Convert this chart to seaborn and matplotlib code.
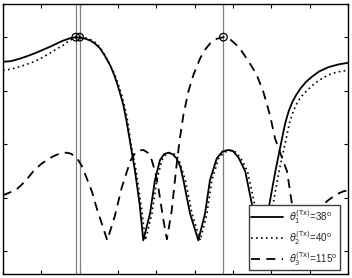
import numpy as np
import pandas as pd
import matplotlib
matplotlib.use("Agg")
import matplotlib.pyplot as plt
import seaborn as sns

# ---- data (angle in degrees, normalized gain in dB) ----
theta1_deg = [0, 4, 9, 13, 16, 20, 24.5, 28, 31, 35, 38, 42, 45.4, 48, 50.6, 53, 55.8, 57.5, 59.3,
              61, 62.8, 64.5, 66.3, 68.9, 71.3, 73.2, 76.7, 79.3, 81.9, 84, 86.2, 88.5, 90.6, 92.5,
              94.1, 97.6, 101.9, 105.4, 108, 111.5, 114.5, 117.5, 120, 123, 126.4, 129.9, 135.3,
              138.6, 142.1, 145.6, 147.3, 149.1, 151, 153, 155, 158, 161.2, 165, 169.9, 175, 180]
theta1_db = [-4.6, -4.5, -4.0, -3.5, -3.1, -2.5, -1.8, -1.2, -0.7, -0.2, 0.0, -0.2, -0.6, -1.2, -2.1,
             -3.4, -5.2, -6.6, -8.4, -10.4, -12.7, -15.8, -19.6, -25.1, -31.3, -38.0, -33.0, -26.7,
             -23.0, -21.9, -21.6, -21.9, -22.7, -24.2, -26.7, -33.0, -38.0, -33.0, -26.7, -22.7,
             -21.4, -21.1, -21.3, -22.6, -25.1, -31.3, -38.0, -32.0, -25.1, -18.9, -16.0, -13.8,
             -12.1, -10.8, -9.7, -8.4, -7.4, -6.4, -5.6, -5.1, -4.8]

theta2_deg = [0, 4, 9, 13, 16, 20, 24.5, 28, 31.5, 34, 36.5, 40, 44, 46.5, 48.9, 51.5, 54.1, 56.3,
              58.4, 60.2, 61.9, 63.2, 64.5, 65.6, 66.6, 69.5, 72, 74.3, 77.7, 80.3, 82.9, 85, 87.2,
              89.5, 91.6, 95.1, 98.6, 102.9, 106.4, 109, 112.5, 115.5, 118.5, 121, 124, 127.6,
              131.3, 137.2, 140.5, 144, 147.8, 149.5, 151.3, 153, 155, 158.5, 162.8, 167, 171.6,
              176, 180]
theta2_db = [-6.2, -6.0, -5.5, -5.0, -4.6, -3.9, -3.0, -2.2, -1.5, -0.8, -0.3, 0.0, -0.2, -0.6,
             -1.2, -2.4, -4.0, -5.5, -7.1, -8.9, -10.8, -12.6, -14.6, -17.0, -19.6, -25.1, -31.3,
             -38.0, -33.0, -26.7, -23.0, -21.9, -21.6, -21.9, -22.7, -26.7, -33.0, -38.0, -33.0,
             -26.7, -22.7, -21.5, -21.2, -21.4, -22.6, -25.1, -31.3, -38.0, -32.0, -25.1, -18.9,
             -16.0, -14.0, -12.6, -11.4, -10.0, -8.6, -7.6, -6.8, -6.4, -6.2]

theta3_deg = [0, 7, 11.5, 15.8, 20, 24.5, 28, 30.5, 33, 35.5, 38.5, 41, 43.7, 46.5, 48.9, 54.4,
              58.4, 61.9, 64.5, 66.5, 68.9, 71, 73.2, 75.5, 77.6, 79.5, 81, 83.6, 85.5, 88, 90.6,
              92.3, 94.1, 96.7, 99.3, 102.8, 105.5, 108, 111.5, 115, 118.5, 121.9, 124.5, 127.1,
              129.8, 132.4, 135.8, 139.3, 141.9, 145, 148.2, 150.8, 157.3, 163, 169, 173.4, 177.8,
              180]
theta3_db = [-29.6, -28.5, -27.0, -25.1, -23.7, -22.6, -22.0, -21.7, -21.6, -21.8, -22.6, -24.0,
             -26.4, -29.0, -32.0, -38.0, -33.4, -28.2, -25.3, -23.1, -21.7, -21.2, -21.1, -21.6,
             -23.0, -25.3, -28.0, -34.0, -37.8, -32.5, -23.8, -18.9, -14.6, -10.2, -7.1, -4.0,
             -2.3, -1.2, -0.3, 0.0, -0.4, -1.5, -2.6, -4.0, -5.5, -7.1, -10.2, -14.6, -18.9, -22.0,
             -25.1, -31.3, -38.0, -33.0, -30.7, -29.5, -28.8, -28.7]

steer_deg = [38, 40, 115]
labels = [r'$\theta_1^{(\mathrm{Tx})}$=38$^{\mathrm{o}}$',
          r'$\theta_2^{(\mathrm{Tx})}$=40$^{\mathrm{o}}$',
          r'$\theta_3^{(\mathrm{Tx})}$=115$^{\mathrm{o}}$']
peak_db = [0, 0, 0]

x_ticks = [0, 20, 40, 60, 80, 100, 120, 140, 160, 180]
y_ticks = [0, -10, -20, -30, -40]

# ---- plotting ----
sns.set_style("white")
plt.rcParams['font.family'] = ['Liberation Sans', 'DejaVu Sans']

fig = plt.figure(figsize=(3.52, 2.78), dpi=100)
ax = fig.add_axes([3 / 352, 4 / 278, 345 / 352, 270 / 278])

for s in steer_deg:
    ax.axvline(s, color='#808080', lw=0.9, zorder=1)

df1 = pd.DataFrame({'deg': theta1_deg, 'db': theta1_db})
df2 = pd.DataFrame({'deg': theta2_deg, 'db': theta2_db})
df3 = pd.DataFrame({'deg': theta3_deg, 'db': theta3_db})

sns.lineplot(data=df1, x='deg', y='db', ax=ax, color='black', lw=1.3, linestyle='-',
             label=labels[0], zorder=3)
sns.lineplot(data=df2, x='deg', y='db', ax=ax, color='black', lw=1.2, linestyle=(0, (1, 2)),
             label=labels[1], zorder=3)
sns.lineplot(data=df3, x='deg', y='db', ax=ax, color='black', lw=1.3, linestyle=(0, (5, 3.5)),
             label=labels[2], zorder=3)

sns.scatterplot(x=steer_deg, y=peak_db, ax=ax, s=30, facecolor='none', edgecolor='black',
                linewidth=0.9, zorder=4, legend=False)

ax.set_xlim(0, 180)
ax.set_ylim(-44.3, 6.2)
ax.set_xticks(x_ticks)
ax.set_yticks(y_ticks)
ax.set_xticklabels([])
ax.set_yticklabels([])
ax.set_xlabel('')
ax.set_ylabel('')
ax.tick_params(direction='in', length=3, width=0.8, top=True, right=True, bottom=True, left=True,
               color='black')
for sp in ax.spines.values():
    sp.set_color('black')
    sp.set_linewidth(1.0)

leg = ax.legend(loc='lower right', bbox_to_anchor=(337 / 345, 4 / 270), borderaxespad=0,
                fontsize=7, frameon=True, fancybox=False, handlelength=3.3, handletextpad=0.6,
                labelspacing=0.33, borderpad=0.25)
leg.get_frame().set_edgecolor('#404040')
leg.get_frame().set_linewidth(1.0)
leg.get_frame().set_alpha(1)

fig.savefig('out.png', dpi=100)
